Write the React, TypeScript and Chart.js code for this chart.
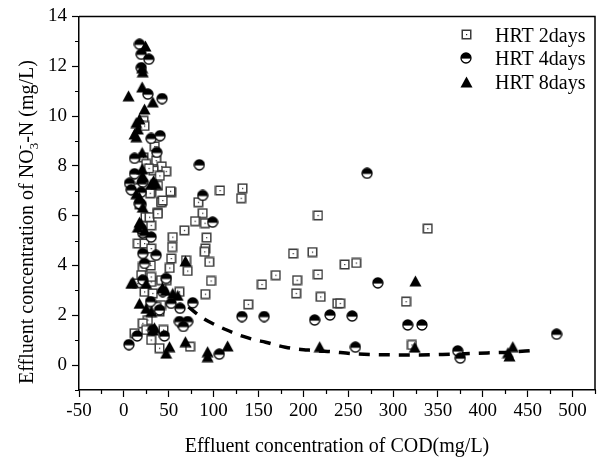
import React, { useEffect, useRef } from 'react';
import { Chart, registerables } from 'chart.js';

Chart.register(...registerables);

// ---------- data ----------
const hrt2X = [21.9, 23, 34.4, 36, 42.2, 47.1, 33, 21.9, 24.9, 28, 40, 38, 52.7, 30.4, 42.2, 37.8, 29.3, 17.4, 24.1, 30.4, 28.6, 83, 87.8, 79.3, 90.4, 107.1, 132.2, 130.6, 67.4, 216.3, 338.6, 210.1, 246, 258.9, 216.3, 193, 192, 219.3, 237.8, 241, 314.4, 321, 95.2, 71.1, 97.1, 90.8, 138.6, 153.8, 169.3, 188.6, 92.2, 90.8, 90, 69.3, 54.4, 53.8, 52.7, 51, 15.6, 23, 30.4, 21.1, 30, 19.3, 30.4, 41.5, 47.7, 15.6, 23, 32.2, 41.5, 39.7, 26.7, 21.1, 24.9, 11.9, 44.1, 30.4, 39.7, 73.8, 61.9, 36, 30.4, 41.5, 37.8, 51.9, 43.3];
const hrt2Y = [9.81, 9.6, 8.78, 8.21, 7.98, 7.78, 7.81, 8.34, 8.08, 7.9, 7.6, 7.2, 6.94, 6.94, 6.57, 6.12, 6.9, 6.45, 5.94, 5.61, 5.94, 6.54, 6.1, 5.78, 5.7, 7.01, 7.1, 6.7, 5.41, 6.01, 5.48, 4.54, 4.04, 4.1, 3.64, 3.41, 2.88, 2.74, 2.48, 2.48, 2.55, 0.81, 4.14, 3.78, 3.38, 2.85, 2.44, 3.24, 3.61, 4.48, 5.12, 4.68, 4.55, 4.21, 5.14, 4.74, 4.28, 3.9, 4.88, 4.88, 4.68, 3.94, 4.0, 3.61, 3.34, 3.41, 3.41, 3.28, 2.94, 2.88, 2.41, 2.15, 1.81, 1.68, 1.41, 1.28, 1.41, 1.01, 0.68, 0.74, 2.94, 2.34, 3.54, 6.54, 6.08, 6.98, 6.61];

const hrt4X = [17.4, 19.3, 27.8, 19.3, 26.7, 42.6, 30.4, 40.4, 36.7, 11.9, 84.1, 6.3, 8.2, 11.9, 21, 19.3, 87.8, 98.9, 19.3, 17.4, 271, 212.6, 229.7, 254.4, 283, 316.3, 332.2, 258, 372, 374.9, 482.2, 131.5, 156.3, 76.7, 62.6, 61.9, 71.1, 66.3, 106.3, 52.7, 5.6, 14.9, 45.2, 29.7, 23, 21.1, 36, 43.3, 39.7, 47.1, 21.1, 30.4, 21, 19.3, 32];
const hrt4Y = [12.88, 12.48, 12.28, 11.94, 10.88, 10.7, 9.1, 9.21, 8.54, 8.3, 8.04, 7.3, 7.04, 7.68, 7.34, 6.94, 6.81, 5.74, 6.45, 6.48, 7.7, 1.81, 2.01, 1.97, 3.3, 1.61, 1.61, 0.72, 0.57, 0.28, 1.24, 1.95, 1.95, 2.5, 2.28, 1.75, 1.75, 1.55, 0.44, 2.48, 0.82, 1.17, 1.17, 2.55, 4.08, 4.48, 4.41, 2.95, 2.21, 3.48, 3.41, 5.14, 5.3, 5.48, 1.4];

const hrt8X = [24.1, 20.4, 21, 5.2, 20.4, 32.2, 23, 17.4, 13.8, 15.6, 13.8, 11.9, 20.4, 20.4, 19.3, 21, 13.8, 17.4, 36, 33, 30.4, 21, 19.3, 17.4, 15.6, 23, 8.2, 17.4, 24.9, 30.4, 32.2, 34, 50.8, 47.1, 68.6, 54.4, 60, 68.6, 93.3, 93.3, 115.6, 24.9, 43, 46.6, 324.9, 218.2, 324.1, 433.4, 429.7, 428, 10];
const hrt8Y = [12.81, 11.94, 11.78, 10.81, 11.17, 10.57, 10.28, 9.88, 9.74, 9.48, 9.17, 9.28, 8.54, 7.88, 7.48, 7.6, 6.88, 6.74, 7.28, 7.4, 7.28, 6.34, 5.68, 5.74, 5.54, 5.4, 3.28, 2.48, 2.28, 2.15, 1.41, 1.5, 0.74, 0.48, 4.18, 2.88, 2.8, 0.94, 0.54, 0.34, 0.77, 3.28, 3.1, 3.0, 3.38, 0.74, 0.72, 0.74, 0.37, 0.5, 3.34];

const fitX = [72, 80, 90, 100, 112, 123, 134, 146, 158, 169, 180, 192, 204, 217, 230, 255, 280, 305, 330, 355, 380, 405, 430, 456];
const fitY = [2.34, 2.1, 1.84, 1.65, 1.45, 1.28, 1.14, 1.01, 0.92, 0.81, 0.72, 0.65, 0.61, 0.57, 0.54, 0.46, 0.42, 0.41, 0.41, 0.43, 0.46, 0.49, 0.52, 0.59];

const seriesLabels = ['HRT 2days', 'HRT 4days', 'HRT 8days'];
const xTitle = 'Effluent concentration of COD(mg/L)';
const yTitleParts = ['Effluent concentration of NO', '3', '-', '-N (mg/L)'];
const xMin = -50, xMax = 525, xStep = 50;
const yMin = -1, yMax = 14, yStep = 2;

const FONT = "'Liberation Serif', 'Times New Roman', serif";

// ---------- markers ----------
function makeSquare(): HTMLCanvasElement {
  const c = document.createElement('canvas');
  c.width = 11; c.height = 11;
  const g = c.getContext('2d')!;
  g.fillStyle = '#fff';
  g.fillRect(1, 1, 9, 9);
  g.strokeStyle = '#3a3a3a';
  g.lineWidth = 1.5;
  g.strokeRect(1.25, 1.25, 8.5, 8.5);
  g.fillStyle = '#222';
  g.fillRect(5, 5, 1.2, 1.2);
  return c;
}
function makeHalf(): HTMLCanvasElement {
  const c = document.createElement('canvas');
  c.width = 12; c.height = 12;
  const g = c.getContext('2d')!;
  g.beginPath();
  g.arc(6, 6, 5, 0, Math.PI * 2);
  g.fillStyle = '#fff';
  g.fill();
  g.beginPath();
  g.moveTo(1, 6.5);
  g.arc(6, 6.5, 5, Math.PI, 0, false);
  g.closePath();
  g.save();
  g.beginPath();
  g.arc(6, 6, 5, 0, Math.PI * 2);
  g.clip();
  g.fillStyle = '#000';
  g.fillRect(0, 0, 12, 6.6);
  g.restore();
  g.beginPath();
  g.arc(6, 6, 5, 0, Math.PI * 2);
  g.strokeStyle = '#000';
  g.lineWidth = 1.3;
  g.stroke();
  return c;
}
function makeTri(): HTMLCanvasElement {
  const c = document.createElement('canvas');
  c.width = 13; c.height = 12;
  const g = c.getContext('2d')!;
  g.beginPath();
  g.moveTo(6.5, 0.5);
  g.lineTo(12.5, 11.5);
  g.lineTo(0.5, 11.5);
  g.closePath();
  g.fillStyle = '#000';
  g.fill();
  return c;
}

const toPts = (xs: number[], ys: number[]) => xs.map((x, i) => ({ x, y: ys[i] }));

export default function App() {
  const ref = useRef<HTMLCanvasElement>(null);
  useEffect(() => {
    document.body.style.margin = '0';
    const sq = makeSquare();
    const hc = makeHalf();
    const tr = makeTri();
    const markers = [sq, hc, tr];

    const decor = {
      id: 'decor',
      afterDraw(chart: any) {
        const { ctx, chartArea: a, scales } = chart;
        const xs = scales.x, ys = scales.y;
        ctx.save();
        ctx.strokeStyle = '#000';
        ctx.lineWidth = 1.5;
        // frame top & right
        ctx.beginPath();
        ctx.moveTo(a.left, a.top);
        ctx.lineTo(a.right, a.top);
        ctx.lineTo(a.right, a.bottom);
        ctx.stroke();
        // minor ticks
        ctx.lineWidth = 1.2;
        ctx.beginPath();
        for (let v = xMin + xStep / 2; v <= xMax + 0.01; v += xStep) {
          const px = Math.round(xs.getPixelForValue(v)) + 0.5;
          ctx.moveTo(px, a.bottom);
          ctx.lineTo(px, a.bottom + 4);
        }
        for (let v = yMin; v < yMax; v += yStep) {
          const py = Math.round(ys.getPixelForValue(v)) + 0.5;
          ctx.moveTo(a.left, py);
          ctx.lineTo(a.left - 4, py);
        }
        ctx.stroke();

        ctx.fillStyle = '#000';
        // x title
        ctx.font = `20px ${FONT}`;
        ctx.textAlign = 'center';
        ctx.textBaseline = 'alphabetic';
        ctx.fillText(xTitle, (a.left + a.right) / 2, 452);

        // y title (rotated, with sub/superscript)
        ctx.save();
        ctx.translate(26, 222);
        ctx.rotate(-Math.PI / 2);
        ctx.textAlign = 'left';
        const big = `20px ${FONT}`;
        const small = `13px ${FONT}`;
        ctx.font = big;
        const w0 = ctx.measureText(yTitleParts[0]).width;
        const w3b = ctx.measureText(yTitleParts[3]).width;
        ctx.font = small;
        const w1 = ctx.measureText(yTitleParts[1]).width;
        const w2 = ctx.measureText(yTitleParts[2]).width;
        const ws = Math.max(w1, w2);
        const total = w0 + ws + w3b;
        let cx = -total / 2;
        ctx.font = big;
        ctx.fillText(yTitleParts[0], cx, 7);
        cx += w0;
        ctx.font = small;
        ctx.fillText(yTitleParts[1], cx, 12);
        ctx.fillText(yTitleParts[2], cx, -2);
        cx += ws;
        ctx.font = big;
        ctx.fillText(yTitleParts[3], cx, 7);
        ctx.restore();

        // legend
        const legY = [34.5, 58.3, 81.7];
        ctx.font = `20px ${FONT}`;
        ctx.textAlign = 'left';
        ctx.textBaseline = 'alphabetic';
        for (let i = 0; i < 3; i++) {
          const m = markers[i];
          ctx.drawImage(m, Math.round(466 - m.width / 2), Math.round(legY[i] - m.height / 2));
          ctx.fillText(seriesLabels[i], 495, legY[i] + 7);
        }
        ctx.restore();
      },
    };

    const tickFont = { family: FONT, size: 19 };
    const chart = new Chart(ref.current!, {
      type: 'scatter',
      data: {
        datasets: [
          {
            label: seriesLabels[2],
            data: toPts(hrt8X, hrt8Y),
            pointStyle: tr as any,
            order: 0,
          },
          {
            label: seriesLabels[1],
            data: toPts(hrt4X, hrt4Y),
            pointStyle: hc as any,
            order: 1,
          },
          {
            label: seriesLabels[0],
            data: toPts(hrt2X, hrt2Y),
            pointStyle: sq as any,
            order: 2,
          },
          {
            label: 'fit',
            data: toPts(fitX, fitY),
            showLine: true,
            pointRadius: 0,
            borderColor: '#000',
            borderWidth: 3.5,
            borderDash: [11, 9],
            tension: 0.4,
            cubicInterpolationMode: 'monotone',
            order: 3,
          } as any,
        ],
      },
      options: {
        responsive: false,
        animation: false,
        events: [],
        layout: { padding: { top: 15, right: 6, left: 0, bottom: 0 } },
        plugins: { legend: { display: false }, tooltip: { enabled: false } },
        scales: {
          x: {
            type: 'linear',
            min: xMin,
            max: xMax,
            afterFit: (s: any) => { s.height = 69; },
            ticks: { stepSize: xStep, includeBounds: false, color: '#000', font: tickFont, padding: 3, maxRotation: 0 },
            grid: { drawOnChartArea: false, drawTicks: true, tickLength: 7, tickColor: '#000', tickWidth: 1.2 },
            border: { display: true, color: '#000', width: 1.5 },
          },
          y: {
            type: 'linear',
            min: yMin,
            max: yMax,
            afterFit: (s: any) => { s.width = 79; },
            ticks: { stepSize: yStep, includeBounds: false, color: '#000', font: tickFont, padding: 5 },
            grid: { drawOnChartArea: false, drawTicks: true, tickLength: 7, tickColor: '#000', tickWidth: 1.2 },
            border: { display: true, color: '#000', width: 1.5 },
          },
        },
      },
      plugins: [decor],
    });
    return () => chart.destroy();
  }, []);
  return (
    <div style={{ width: 601, height: 459, background: '#fff' }}>
      <canvas ref={ref} width={601} height={459} style={{ display: 'block' }} />
    </div>
  );
}
